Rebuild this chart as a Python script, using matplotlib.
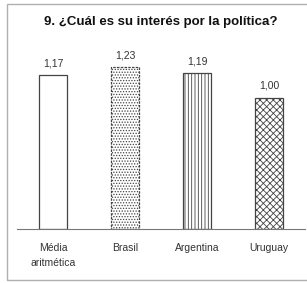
import matplotlib
matplotlib.use('Agg')
import matplotlib.pyplot as plt
from matplotlib.patches import Rectangle

# datos
categorias = ['Média\naritmética', 'Brasil', 'Argentina', 'Uruguay']
valores = [1.17, 1.23, 1.19, 1.00]
etiquetas = ['1,17', '1,23', '1,19', '1,00']
tramas = ['', '......', '|||||', 'xxxxx']
titulo = '9. ¿Cuál es su interés por la política?'

plt.rcParams['font.family'] = ['Liberation Sans', 'DejaVu Sans']
plt.rcParams['hatch.linewidth'] = 0.6
plt.rcParams['hatch.color'] = '#666666'

fig = plt.figure(figsize=(3.07, 2.83), dpi=100)
fig.patches.append(Rectangle((7 / 307, 3 / 283), 1.0, 1 - 7 / 283, transform=fig.transFigure,
                             fill=False, edgecolor='#b0b0b0', linewidth=1.0))

ax = fig.add_axes([17 / 307, 1 - 229 / 283, 288 / 307, 184 / 283])
x = range(len(categorias))
barras = ax.bar(x, valores, width=0.4, color='white', edgecolor='#444444', linewidth=0.9)
for b, h in zip(barras, tramas):
    b.set_hatch(h)
barras[1].set_linestyle((0, (2, 1)))

for xi, v, t in zip(x, valores, etiquetas):
    ax.text(xi, v + 0.05, t, ha='center', va='bottom', fontsize=7.5, color='#333333')

ax.set_xlim(-0.5, 3.5)
ax.set_ylim(0, 1.4)
ax.set_xticks(list(x))
ax.set_xticklabels(categorias, fontsize=7.5, color='#333333', linespacing=1.7)
ax.tick_params(axis='x', length=0, pad=10)
ax.set_yticks([])
for s in ['top', 'right', 'left']:
    ax.spines[s].set_visible(False)
ax.spines['bottom'].set_color('#777777')

fig.text(161 / 307, 1 - 22 / 283, titulo, ha='center', va='center', fontsize=9.5,
         fontweight='bold', color='#111111')

fig.savefig('out.png', dpi=100)
